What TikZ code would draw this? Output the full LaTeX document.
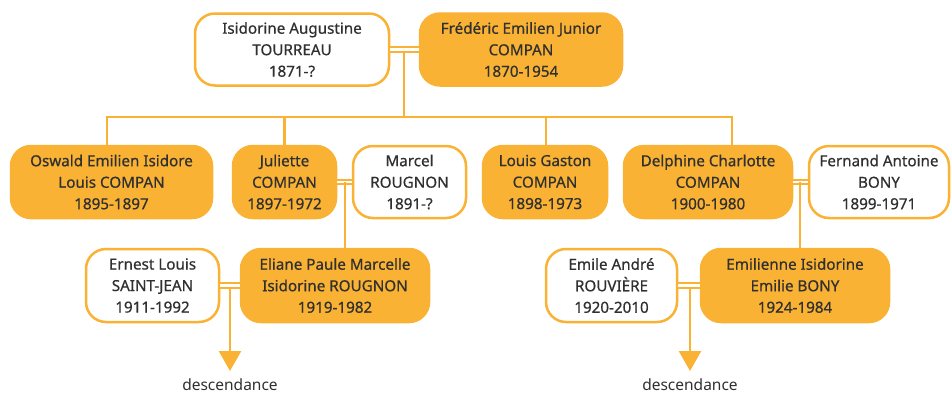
\documentclass[tikz,border=0pt]{standalone}
\usepackage{fontspec}
\setmainfont{Noto Sans}
\newfontfamily\boxfont{Noto Sans}[FakeBold=0.6]
\usetikzlibrary{calc,arrows.meta}
\definecolor{orng}{HTML}{F9B233}
\definecolor{txt}{HTML}{303030}
\tikzset{
  person/.style={rounded corners=20pt, line width=2.5pt, draw=orng, align=center,
    text=txt, inner sep=0pt, font=\boxfont\fontsize{15.2}{21.5}\selectfont},
  blood/.style={person, fill=orng},
  inlaw/.style={person, fill=white},
  link/.style={draw=orng, line width=2.5pt},
  marr/.style={draw=orng, line width=2pt, double=white, double distance=2.5pt},
  desc/.style={text=txt, font=\fontsize{15.5}{18}\selectfont}
}
\begin{document}
\begin{tikzpicture}[x=1pt,y=-1pt]
\useasboundingbox (0,0) rectangle (952,394);
% generation 1
\node[inlaw, minimum width=194pt, minimum height=72pt] (isi) at (292,49.5) {Isidorine Augustine\\TOURREAU\\1871-?};
\node[blood, minimum width=202pt, minimum height=72pt] (fre) at (521,49.5) {Frédéric Emilien Junior\\COMPAN\\1870-1954};
% generation 2
\node[blood, minimum width=201pt, minimum height=72pt] (osw) at (111.5,182) {Oswald Emilien Isidore\\Louis COMPAN\\1895-1897};
\node[blood, minimum width=103pt, minimum height=72pt] (jul) at (284.5,182) {Juliette\\COMPAN\\1897-1972};
\node[inlaw, minimum width=113pt, minimum height=72pt] (mar) at (409.5,182) {Marcel\\ROUGNON\\1891-?};
\node[blood, minimum width=124pt, minimum height=72pt] (lou) at (545,182) {Louis Gaston\\COMPAN\\1898-1973};
\node[blood, minimum width=168pt, minimum height=72pt] (del) at (708,182) {Delphine Charlotte\\COMPAN\\1900-1980};
\node[inlaw, minimum width=140pt, minimum height=72pt] (fer) at (879,182) {Fernand Antoine\\BONY\\1899-1971};
% generation 3
\node[inlaw, minimum width=133pt, minimum height=73pt] (ern) at (152.5,285.5) {Ernest Louis\\SAINT-JEAN\\1911-1992};
\node[blood, minimum width=188pt, minimum height=73pt] (eli) at (335,285.5) {Eliane Paule Marcelle\\Isidorine ROUGNON\\1919-1982};
\node[inlaw, minimum width=131pt, minimum height=73pt] (emi) at (611.5,285.5) {Emile André\\ROUVIÈRE\\1920-2010};
\node[blood, minimum width=188pt, minimum height=73pt] (emn) at (795,285.5) {Emilienne Isidorine\\Emilie BONY\\1924-1984};
% descendance labels
\node[desc] (d1) at (230,385) {descendance};
\node[desc] (d2) at (690,385) {descendance};
% couple points
\coordinate (c0) at (404,52);
\coordinate (bar) at (404,117);
\coordinate (c1) at (345,182);
\coordinate (c2) at (800,182);
\coordinate (c3) at (230,287);
\coordinate (c4) at (690,287);
\coordinate (t1) at (230,371);
\coordinate (t2) at (690,371);
% marriages
\draw[marr] (isi.east) -- (fre.west);
\draw[marr] (jul.east) -- (mar.west);
\draw[marr] (del.east) -- (fer.west);
\draw[marr] (ern.east) -- (eli.west);
\draw[marr] (emi.east) -- (emn.west);
% children of generation 1
\draw[link] (c0) -- (bar);
\draw[link] (osw.north -| 107,0) |- (bar) -| (732,0 |- del.north);
\draw[link] (jul.north) -- (jul.north |- bar);
\draw[link] (lou.north -| 546,0) -- (546,0 |- bar);
% children of generation 2
\draw[link] (c1) -- (c1 |- eli.north);
\draw[link] (c2) -- (c2 |- emn.north);
% descendance arrows
\draw[link, -{Triangle[width=22pt,length=20pt]}] (c3) -- (t1);
\draw[link, -{Triangle[width=22pt,length=20pt]}] (c4) -- (t2);
\end{tikzpicture}
\end{document}
